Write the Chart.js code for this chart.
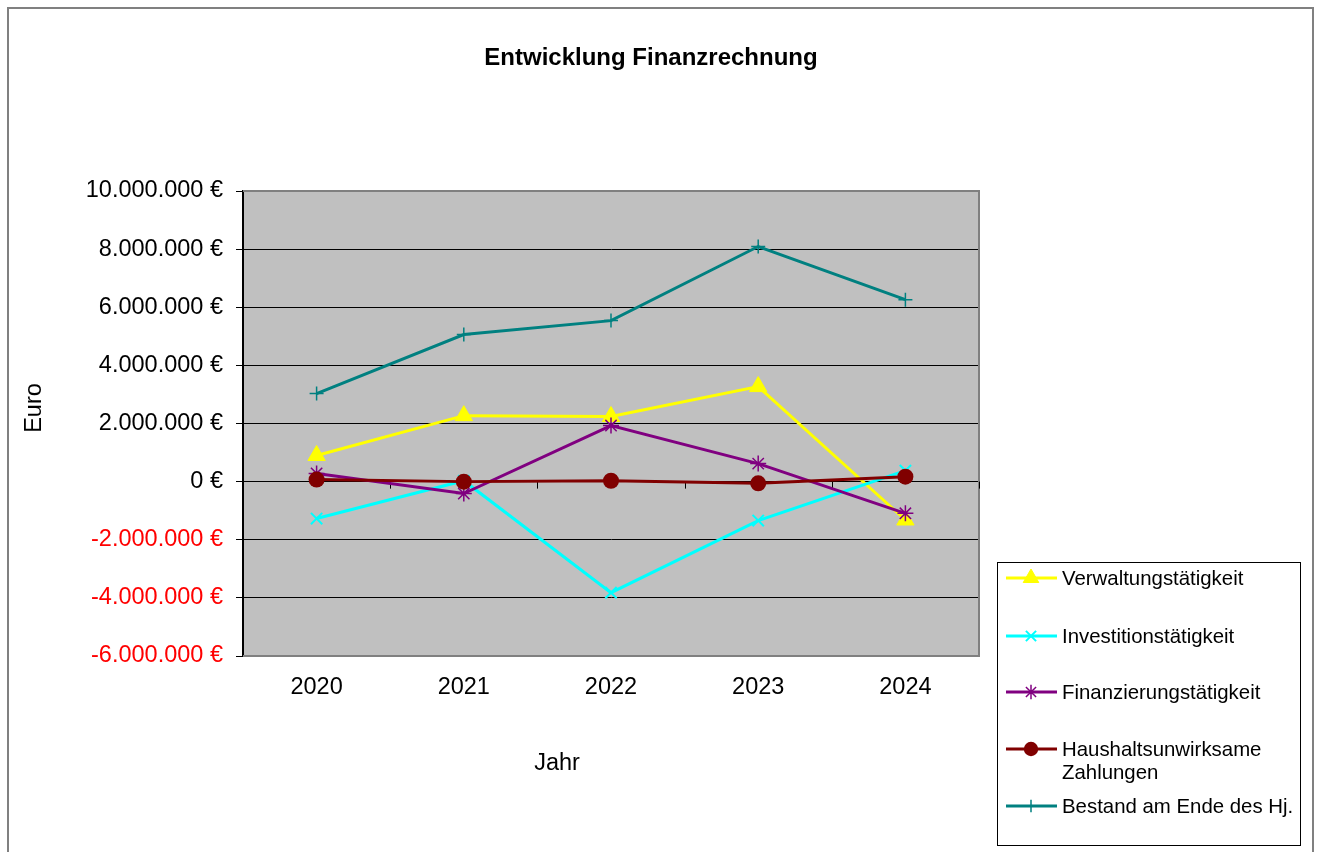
<!DOCTYPE html>
<html>
<head>
<meta charset="utf-8">
<script src="https://cdn.jsdelivr.net/npm/chart.js@4.4.1/dist/chart.umd.min.js"></script>
<style>
  body { margin: 0; background: #fff; }
  canvas { display: block; }
</style>
</head>
<body>
<canvas id="chart" width="1321" height="852"></canvas>
<script>
const years = ["2020", "2021", "2022", "2023", "2024"];
const verwaltung = [900000, 2270000, 2240000, 3270000, -1320000];
const investition = [-1270000, 30000, -3820000, -1340000, 380000];
const finanzierung = [280000, -410000, 1930000, 620000, -1090000];
const haushalt = [70000, 0, 30000, -60000, 170000];
const bestand = [3030000, 5060000, 5540000, 8090000, 6260000];

const FONT = "'Liberation Sans', Arial, sans-serif";

function euro(v) {
  const s = Math.abs(v).toFixed(0).replace(/\B(?=(\d{3})+(?!\d))/g, ".");
  return (v < 0 ? "-" : "") + s + " €";
}

const frame = {
  id: "frame",
  beforeDraw(chart) {
    const { ctx, chartArea: a } = chart;
    ctx.save();
    ctx.fillStyle = "#fff";
    ctx.fillRect(0, 0, chart.width, chart.height);
    ctx.strokeStyle = "#808080";
    ctx.lineWidth = 2;
    ctx.strokeRect(8, 8, 1305, 900);
    ctx.fillStyle = "#c0c0c0";
    ctx.fillRect(a.left, a.top, a.right - a.left, a.bottom - a.top);
    ctx.restore();
  },
  beforeDatasetsDraw(chart) {
    const { ctx, chartArea: a, scales } = chart;
    ctx.save();
    // plot area border
    ctx.strokeStyle = "#808080";
    ctx.lineWidth = 2;
    ctx.beginPath();
    ctx.moveTo(a.left, a.top);
    ctx.lineTo(a.right, a.top);
    ctx.lineTo(a.right, a.bottom);
    ctx.lineTo(a.left, a.bottom);
    ctx.stroke();
    // category ticks on the zero line
    const y0 = scales.y.getPixelForValue(0);
    const half = (scales.x.getPixelForValue(1) - scales.x.getPixelForValue(0)) / 2;
    ctx.strokeStyle = "#000";
    ctx.lineWidth = 1;
    ctx.beginPath();
    years.forEach((_, i) => {
      const x = Math.round(scales.x.getPixelForValue(i) + half) + 0.5;
      ctx.moveTo(x, y0);
      ctx.lineTo(x, y0 + 7);
    });
    ctx.stroke();
    ctx.restore();
  },
  afterDraw(chart) {
    const { ctx } = chart;
    ctx.save();
    ctx.fillStyle = "#000";
    ctx.textAlign = "center";
    ctx.textBaseline = "middle";
    ctx.font = "bold 24px " + FONT;
    ctx.fillText("Entwicklung Finanzrechnung", 651, 58);
    ctx.font = "23.5px " + FONT;
    ctx.fillText("Jahr", 557, 764);
    ctx.save();
    ctx.translate(35, 408);
    ctx.rotate(-Math.PI / 2);
    ctx.fillText("Euro", 0, 0);
    ctx.restore();

    // legend
    ctx.strokeStyle = "#000";
    ctx.lineWidth = 1;
    ctx.strokeRect(997.5, 562.5, 303, 283);
    const rows = [578, 636, 692, 749, 806];
    ctx.font = "20.4px " + FONT;
    ctx.textAlign = "left";
    chart.data.datasets.forEach((ds, i) => {
      const y = rows[i];
      ctx.strokeStyle = ds.borderColor;
      ctx.lineWidth = 3;
      ctx.beginPath();
      ctx.moveTo(1006, y);
      ctx.lineTo(1057, y);
      ctx.stroke();
      ctx.fillStyle = ds.pointBackgroundColor;
      ctx.strokeStyle = ds.pointBorderColor;
      ctx.lineWidth = ds.pointBorderWidth;
      Chart.helpers.drawPoint(ctx, {
        pointStyle: ds.pointStyle,
        radius: ds.pointRadius * 0.9,
        rotation: 0,
        borderWidth: ds.pointBorderWidth
      }, 1031, y);
      ctx.fillStyle = "#000";
      const lines = String(ds.label).split("\n");
      lines.forEach((t, k) => ctx.fillText(t, 1062, y + 1 + k * 23));
    });
    ctx.restore();
  }
};

function series(label, data, color, style, radius, bw, order) {
  return {
    label: label,
    data: data,
    borderColor: color,
    borderWidth: 3,
    pointStyle: style,
    pointRadius: radius,
    pointBackgroundColor: color,
    pointBorderColor: color,
    pointBorderWidth: bw,
    tension: 0,
    order: order
  };
}

new Chart(document.getElementById("chart"), {
  type: "line",
  data: {
    labels: years,
    datasets: [
      series("Verwaltungstätigkeit", verwaltung, "#ffff00", "triangle", 10, 1, 5),
      series("Investitionstätigkeit", investition, "#00ffff", "crossRot", 8, 2, 4),
      series("Finanzierungstätigkeit", finanzierung, "#800080", "star", 8, 1.5, 3),
      series("Haushaltsunwirksame\nZahlungen", haushalt, "#800000", "circle", 8, 0, 2),
      series("Bestand am Ende des Hj.", bestand, "#008080", "cross", 7, 1.5, 1)
    ]
  },
  options: {
    responsive: false,
    animation: false,
    layout: { padding: { top: 191, left: 0, right: 342, bottom: 0 } },
    plugins: {
      legend: { display: false },
      title: { display: false },
      tooltip: { enabled: false }
    },
    scales: {
      x: {
        offset: true,
        grid: { display: false, drawTicks: false },
        border: { display: false },
        ticks: { color: "#000", padding: 17, font: { family: FONT, size: 23.5 }, maxRotation: 0 },
        afterFit(scale) { scale.height = 196; }
      },
      y: {
        min: -6000000,
        max: 10000000,
        ticks: {
          stepSize: 2000000,
          padding: 13,
          font: { family: FONT, size: 23.5 },
          color: (c) => (c.tick.value < 0 ? "#ff0000" : "#000"),
          callback: (v) => euro(v)
        },
        grid: {
          color: (c) => (c.tick && (c.tick.value === 10000000 || c.tick.value === -6000000) ? "rgba(0,0,0,0)" : "#000"),
          tickColor: "#000",
          tickLength: 7,
          lineWidth: 1
        },
        border: { color: "#000", width: 2 },
        afterFit(scale) { scale.width = 243; }
      }
    }
  },
  plugins: [frame]
});
</script>
</body>
</html>
